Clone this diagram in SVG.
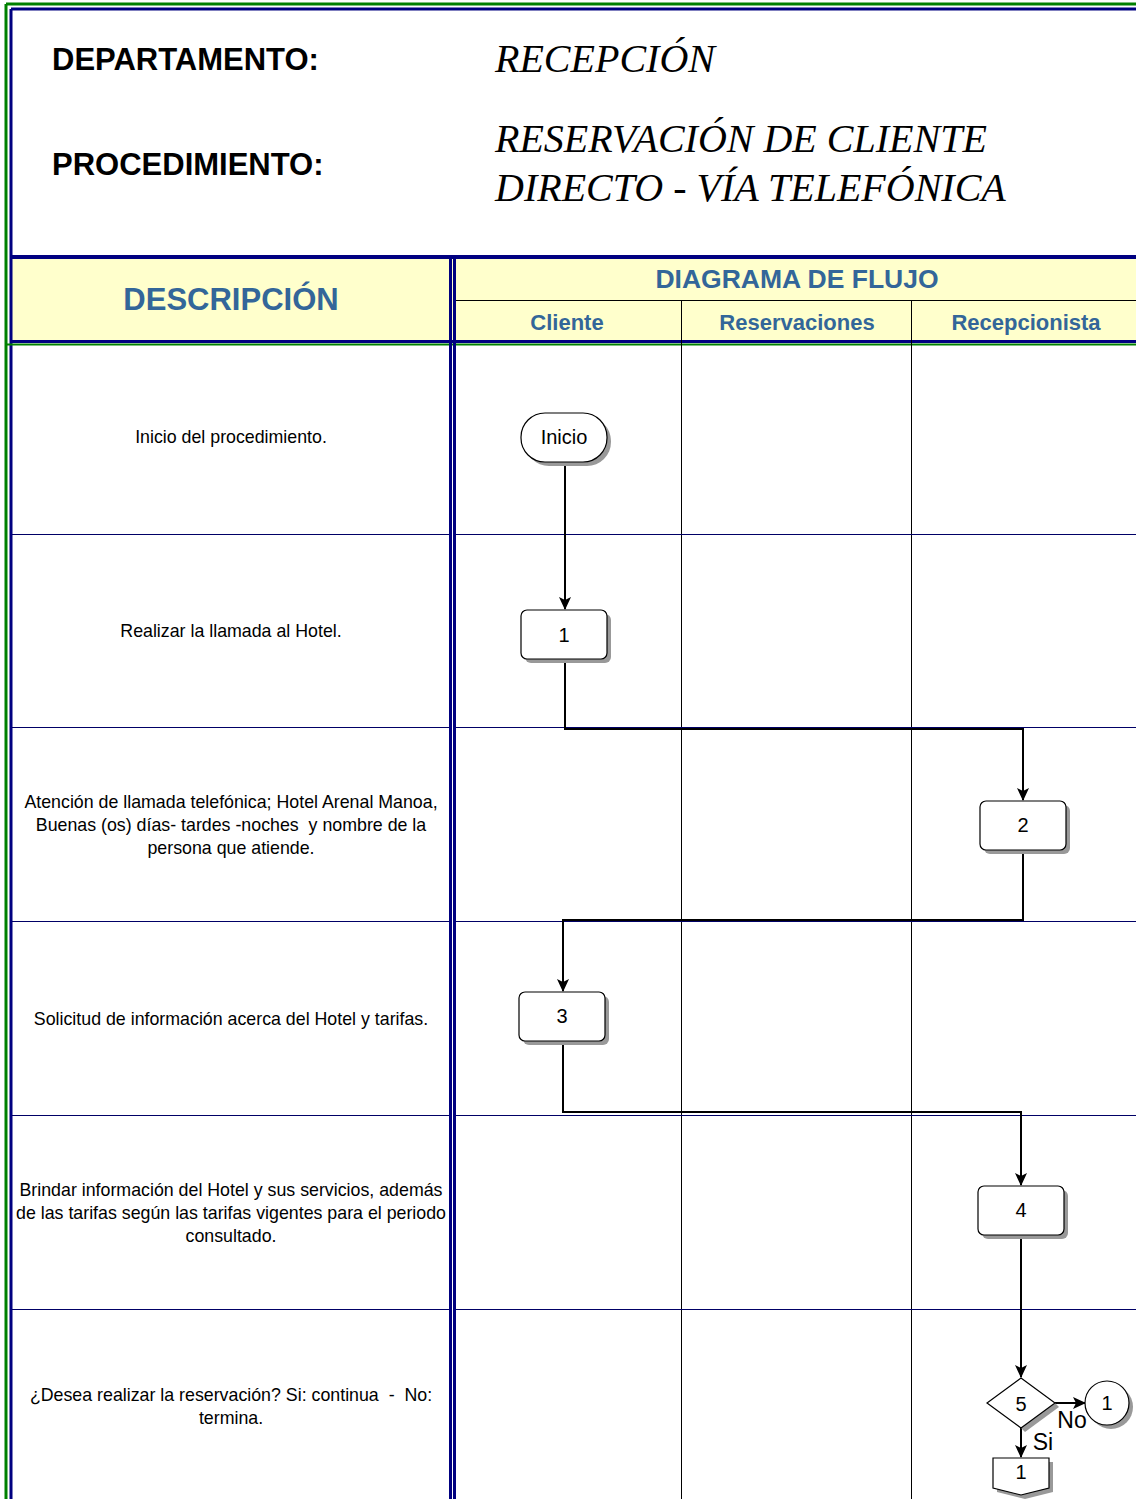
<svg xmlns="http://www.w3.org/2000/svg" width="1136" height="1499" viewBox="0 0 1136 1499">
<style>
.hdr{font-family:"Liberation Sans",Arial,sans-serif;font-weight:bold;font-size:31px;fill:#000}
.ttl{font-family:"Liberation Serif","Times New Roman",serif;font-style:italic;font-size:40px;fill:#000}
.head{font-family:"Liberation Sans",Arial,sans-serif;font-weight:bold;fill:#336699;text-anchor:middle}
.desc{font-family:"Liberation Sans",Arial,sans-serif;font-size:17.8px;fill:#000;text-anchor:middle;white-space:pre}
.lbl{font-family:"Liberation Sans",Arial,sans-serif;font-size:20px;fill:#000;text-anchor:middle}
.big{font-size:23px}
.shape{fill:#fff;stroke:#000;stroke-width:1.2}
.shadow{fill:#999}
.row{stroke:#000066;stroke-width:1}
.col{stroke:#000;stroke-width:1}
.conn{fill:none;stroke:#000;stroke-width:2}
</style>
<defs>
<marker id="arr" markerWidth="13" markerHeight="13" refX="12" refY="6.5" orient="auto" markerUnits="userSpaceOnUse">
<path d="M0,0.5 L13,6.5 L0,12.5 L3,6.5 z" fill="#000"/>
</marker>
</defs>
<rect width="1136" height="1499" fill="#fff"/>
<rect x="12" y="259" width="1124" height="82" fill="#FFFFCC"/>
<g id="frame">
<line x1="6" y1="4" x2="1136" y2="4" stroke="#008000" stroke-width="3"/>
<line x1="6" y1="4" x2="6" y2="1499" stroke="#008000" stroke-width="3"/>
<line x1="11" y1="9" x2="1136" y2="9" stroke="#000080" stroke-width="3"/>
<line x1="11" y1="9" x2="11" y2="1499" stroke="#000080" stroke-width="3"/>
<line x1="10" y1="257" x2="1136" y2="257" stroke="#000080" stroke-width="4"/>
<line x1="10" y1="341.5" x2="1136" y2="341.5" stroke="#000080" stroke-width="3"/>
<line x1="6" y1="344.5" x2="1136" y2="344.5" stroke="#008000" stroke-width="2"/>
<line x1="450.5" y1="257" x2="450.5" y2="1499" stroke="#000080" stroke-width="3"/>
<line x1="454.5" y1="257" x2="454.5" y2="1499" stroke="#000080" stroke-width="3"/>
<line x1="456" y1="300.5" x2="1136" y2="300.5" class="col"/>
<line x1="681.5" y1="300" x2="681.5" y2="1499" class="col"/>
<line x1="911.5" y1="300" x2="911.5" y2="1499" class="col"/>
<line x1="12" y1="534.5" x2="449" y2="534.5" class="row"/>
<line x1="456" y1="534.5" x2="1136" y2="534.5" class="row"/>
<line x1="12" y1="727.5" x2="449" y2="727.5" class="row"/>
<line x1="456" y1="727.5" x2="1136" y2="727.5" class="row"/>
<line x1="12" y1="921.5" x2="449" y2="921.5" class="row"/>
<line x1="456" y1="921.5" x2="1136" y2="921.5" class="row"/>
<line x1="12" y1="1115.5" x2="449" y2="1115.5" class="row"/>
<line x1="456" y1="1115.5" x2="1136" y2="1115.5" class="row"/>
<line x1="12" y1="1309.5" x2="449" y2="1309.5" class="row"/>
<line x1="456" y1="1309.5" x2="1136" y2="1309.5" class="row"/>
</g>
<g id="titles">
<text x="52" y="70" class="hdr">DEPARTAMENTO:</text>
<text x="52" y="175" class="hdr">PROCEDIMIENTO:</text>
<text x="495" y="72" class="ttl">RECEPCIÓN</text>
<text x="495" y="152" class="ttl">RESERVACIÓN DE CLIENTE</text>
<text x="495" y="201" class="ttl">DIRECTO - VÍA TELEFÓNICA</text>
<text x="231" y="310" class="head" font-size="31">DESCRIPCIÓN</text>
<text x="797" y="288" class="head" font-size="26.5">DIAGRAMA DE FLUJO</text>
<text x="567" y="330" class="head" font-size="22">Cliente</text>
<text x="797" y="330" class="head" font-size="22">Reservaciones</text>
<text x="1026" y="330" class="head" font-size="22">Recepcionista</text>
</g>
<g id="descriptions">
<text x="231" y="443" class="desc">Inicio del procedimiento.</text>
<text x="231" y="637" class="desc">Realizar la llamada al Hotel.</text>
<text x="231" y="808" class="desc">Atención de llamada telefónica; Hotel Arenal Manoa,</text>
<text x="231" y="831" class="desc">Buenas (os) días- tardes -noches  y nombre de la</text>
<text x="231" y="854" class="desc">persona que atiende.</text>
<text x="231" y="1025" class="desc">Solicitud de información acerca del Hotel y tarifas.</text>
<text x="231" y="1196" class="desc">Brindar información del Hotel y sus servicios, además</text>
<text x="231" y="1219" class="desc">de las tarifas según las tarifas vigentes para el periodo</text>
<text x="231" y="1242" class="desc">consultado.</text>
<text x="231" y="1401" class="desc">¿Desea realizar la reservación? Si: continua  -  No:</text>
<text x="231" y="1424" class="desc">termina.</text>
</g>
<g id="connectors">
<line x1="565" y1="462" x2="565" y2="609" class="conn" marker-end="url(#arr)"/>
<polyline points="565,659 565,729 1023,729 1023,800" class="conn" marker-end="url(#arr)"/>
<polyline points="1023,850 1023,920 563,920 563,991" class="conn" marker-end="url(#arr)"/>
<polyline points="563,1041 563,1112 1021,1112 1021,1185" class="conn" marker-end="url(#arr)"/>
<line x1="1021" y1="1235" x2="1021" y2="1377" class="conn" marker-end="url(#arr)"/>
<line x1="1055" y1="1403" x2="1085" y2="1403" class="conn" marker-end="url(#arr)"/>
<line x1="1021" y1="1428" x2="1021" y2="1457" class="conn" marker-end="url(#arr)"/>
</g>
<g id="inicio">
<rect x="525" y="417" width="86" height="49" rx="24" class="shadow"/>
<rect x="521" y="413" width="86" height="49" rx="24" class="shape"/>
<text x="564" y="444" class="lbl">Inicio</text>
</g>
<g id="n1">
<rect x="525" y="614" width="86" height="49" rx="6" class="shadow"/>
<rect x="521" y="610" width="86" height="49" rx="6" class="shape"/>
<text x="564" y="642" class="lbl">1</text>
</g>
<g id="n2">
<rect x="984" y="805" width="86" height="49" rx="6" class="shadow"/>
<rect x="980" y="801" width="86" height="49" rx="6" class="shape"/>
<text x="1023" y="832" class="lbl">2</text>
</g>
<g id="n3">
<rect x="523" y="996" width="86" height="49" rx="6" class="shadow"/>
<rect x="519" y="992" width="86" height="49" rx="6" class="shape"/>
<text x="562" y="1023" class="lbl">3</text>
</g>
<g id="n4">
<rect x="982" y="1190" width="86" height="49" rx="6" class="shadow"/>
<rect x="978" y="1186" width="86" height="49" rx="6" class="shape"/>
<text x="1021" y="1217" class="lbl">4</text>
</g>
<g id="n5">
<polygon points="1025,1432 1059,1407 1055,1403 1021,1428" class="shadow"/>
<polygon points="1021,1378 1055,1403 1021,1428 987,1403" class="shape"/>
<text x="1021" y="1411" class="lbl">5</text>
<text x="1072" y="1428" class="lbl big">No</text>
<text x="1043" y="1450" class="lbl big">Si</text>
</g>
<g id="c1">
<circle cx="1111" cy="1407" r="22" class="shadow"/>
<circle cx="1107" cy="1403" r="22" class="shape"/>
<text x="1107" y="1410" class="lbl">1</text>
</g>
<g id="off1">
<polygon points="997,1462 1053,1462 1053,1492 1025,1499 997,1492" class="shadow"/>
<polygon points="993,1458 1049,1458 1049,1488 1021,1495 993,1488" class="shape"/>
<text x="1021" y="1479" class="lbl">1</text>
</g>
</svg>
